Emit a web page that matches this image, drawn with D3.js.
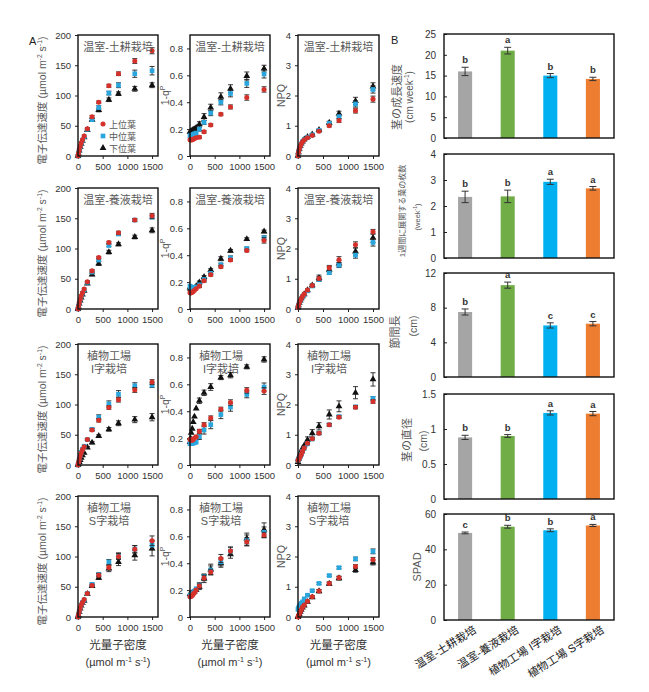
<!DOCTYPE html>
<html>
<head>
<meta charset="utf-8">
<script src="https://cdn.jsdelivr.net/npm/d3@7"></script>
<style>
  body { margin: 0; background: #fff; }
  text { font-family: "Liberation Sans", Arial, "Noto Sans CJK JP", sans-serif; }
</style>
</head>
<body>
<svg id="chart" width="649" height="692"></svg>
<script>
// light steps of the light-response curve (µmol m-2 s-1)
const par = [0, 10, 25, 45, 65, 90, 125, 190, 285, 420, 625, 820, 1150, 1500];

// each series: [value, error] per light step
// 温室-土耕栽培
const soilEtrUp = [[0, 0], [4, 0.3], [10, 0.5], [16, 0.6], [22, 0.8], [27, 1], [33, 1], [45, 1.5], [65, 2], [89, 2], [116, 2.5], [136, 3], [157, 4], [174, 5]];
const soilEtrMid = [[0, 0], [4, 0.3], [9, 0.5], [15, 0.6], [21, 0.8], [26, 1], [32, 1], [44, 1.5], [60, 2], [80, 3], [104, 3], [117, 4], [136, 6], [141, 7]];
const soilEtrLow = [[0, 0], [4, 0.3], [9, 0.5], [15, 0.6], [20, 0.8], [25, 1], [31, 1], [43, 1.5], [60, 2], [76, 3], [93, 3], [103, 3], [111, 4], [117, 4]];
const soilQpUp = [[0.12, 0.01], [0.12, 0.01], [0.12, 0.01], [0.12, 0.01], [0.125, 0.01], [0.13, 0.01], [0.135, 0.01], [0.14, 0.01], [0.18, 0.01], [0.23, 0.01], [0.31, 0.01], [0.365, 0.015], [0.435, 0.02], [0.495, 0.02]];
const soilQpMid = [[0.15, 0.01], [0.15, 0.01], [0.15, 0.01], [0.155, 0.01], [0.16, 0.01], [0.165, 0.01], [0.17, 0.01], [0.2, 0.015], [0.25, 0.015], [0.32, 0.02], [0.4, 0.02], [0.465, 0.025], [0.54, 0.03], [0.61, 0.03]];
const soilQpLow = [[0.18, 0.01], [0.18, 0.01], [0.185, 0.01], [0.19, 0.01], [0.195, 0.01], [0.2, 0.015], [0.21, 0.015], [0.235, 0.02], [0.29, 0.025], [0.36, 0.025], [0.44, 0.03], [0.5, 0.03], [0.595, 0.03], [0.65, 0.025]];
const soilNpqUp = [[0, 0], [0.12, 0.01], [0.22, 0.01], [0.32, 0.02], [0.4, 0.02], [0.47, 0.02], [0.53, 0.02], [0.6, 0.02], [0.68, 0.03], [0.82, 0.03], [1.0, 0.04], [1.17, 0.06], [1.5, 0.08], [1.88, 0.1]];
const soilNpqMid = [[0, 0], [0.12, 0.01], [0.22, 0.01], [0.32, 0.02], [0.4, 0.02], [0.47, 0.02], [0.54, 0.02], [0.62, 0.02], [0.7, 0.03], [0.85, 0.03], [1.08, 0.05], [1.3, 0.07], [1.72, 0.1], [2.2, 0.12]];
const soilNpqLow = [[0, 0], [0.12, 0.01], [0.23, 0.01], [0.33, 0.02], [0.41, 0.02], [0.48, 0.02], [0.55, 0.02], [0.63, 0.02], [0.71, 0.03], [0.86, 0.03], [1.1, 0.05], [1.4, 0.08], [1.82, 0.12], [2.3, 0.12]];

// 温室-養液栽培
const hydroEtrUp = [[0, 0], [4, 0.3], [10, 0.5], [16, 0.6], [22, 0.8], [27, 1], [33, 1], [45, 1.5], [63, 2], [85, 2], [110, 2], [126, 2.5], [147, 2], [154, 4]];
const hydroEtrMid = [[0, 0], [4, 0.3], [10, 0.5], [16, 0.6], [21, 0.8], [26, 1], [32, 1], [44, 1.5], [61, 2], [81, 2], [105, 2], [124, 2.5], [147, 2], [152, 3]];
const hydroEtrLow = [[0, 0], [4, 0.3], [9, 0.5], [14, 0.6], [19, 0.8], [24, 1], [30, 1], [42, 1.5], [57, 2], [75, 3], [94, 3], [107, 2.5], [119, 3], [130, 4]];
const hydroQpUp = [[0.12, 0.01], [0.12, 0.01], [0.12, 0.01], [0.125, 0.01], [0.13, 0.01], [0.14, 0.01], [0.15, 0.01], [0.17, 0.01], [0.21, 0.01], [0.255, 0.01], [0.315, 0.01], [0.365, 0.01], [0.435, 0.01], [0.51, 0.02]];
const hydroQpMid = [[0.17, 0.02], [0.165, 0.02], [0.16, 0.015], [0.155, 0.01], [0.155, 0.01], [0.16, 0.01], [0.165, 0.01], [0.18, 0.01], [0.22, 0.01], [0.265, 0.01], [0.33, 0.01], [0.38, 0.015], [0.45, 0.01], [0.53, 0.015]];
const hydroQpLow = [[0.16, 0.01], [0.15, 0.01], [0.145, 0.01], [0.145, 0.01], [0.15, 0.01], [0.155, 0.01], [0.17, 0.01], [0.198, 0.01], [0.238, 0.01], [0.29, 0.01], [0.374, 0.015], [0.433, 0.01], [0.52, 0.01], [0.577, 0.01]];
const hydroNpqUp = [[0.05, 0.01], [0.12, 0.01], [0.2, 0.01], [0.28, 0.02], [0.35, 0.02], [0.42, 0.02], [0.5, 0.02], [0.63, 0.03], [0.78, 0.04], [1.01, 0.06], [1.36, 0.08], [1.63, 0.1], [2.12, 0.1], [2.55, 0.08]];
const hydroNpqMid = [[0.05, 0.01], [0.12, 0.01], [0.2, 0.01], [0.27, 0.02], [0.34, 0.02], [0.41, 0.02], [0.48, 0.02], [0.6, 0.03], [0.76, 0.04], [0.97, 0.05], [1.2, 0.06], [1.45, 0.08], [1.78, 0.1], [2.2, 0.12]];
const hydroNpqLow = [[0.05, 0.01], [0.12, 0.01], [0.2, 0.01], [0.28, 0.02], [0.35, 0.02], [0.42, 0.02], [0.49, 0.02], [0.62, 0.03], [0.78, 0.04], [1.02, 0.1], [1.3, 0.1], [1.5, 0.1], [1.9, 0.12], [2.35, 0.15]];

// 植物工場 I字栽培
const iEtrUp = [[0, 0], [4, 0.3], [9, 0.5], [15, 0.6], [20, 0.8], [25, 1], [30, 1], [42, 1.5], [58, 2], [74, 3], [95, 3], [108, 4], [124, 4], [137, 4]];
const iEtrMid = [[0, 0], [4, 0.3], [10, 0.5], [16, 0.6], [21, 0.8], [26, 1], [31, 1], [42, 1.5], [59, 2], [79, 4], [101, 5], [117, 6], [131, 5], [132, 4]];
const iEtrLow = [[0, 0], [2, 0.3], [5, 0.5], [8, 0.6], [12, 0.8], [16, 1], [20, 1], [29, 1.5], [37, 2], [48, 2], [59, 3], [69, 4], [75, 5], [79, 6]];
const iQpUp = [[0.19, 0.01], [0.19, 0.01], [0.185, 0.01], [0.185, 0.01], [0.19, 0.01], [0.2, 0.01], [0.21, 0.01], [0.25, 0.015], [0.3, 0.015], [0.35, 0.015], [0.415, 0.015], [0.465, 0.02], [0.555, 0.02], [0.55, 0.025]];
const iQpMid = [[0.16, 0.01], [0.16, 0.01], [0.16, 0.01], [0.16, 0.02], [0.165, 0.02], [0.165, 0.02], [0.17, 0.02], [0.21, 0.02], [0.26, 0.03], [0.3, 0.03], [0.375, 0.03], [0.43, 0.03], [0.525, 0.025], [0.58, 0.03]];
const iQpLow = [[0.17, 0.01], [0.2, 0.01], [0.24, 0.015], [0.27, 0.015], [0.32, 0.015], [0.36, 0.02], [0.42, 0.02], [0.478, 0.02], [0.537, 0.02], [0.58, 0.025], [0.65, 0.015], [0.668, 0.02], [0.73, 0.015], [0.785, 0.02]];
const iNpqUp = [[0.15, 0.02], [0.18, 0.02], [0.22, 0.02], [0.28, 0.02], [0.35, 0.02], [0.45, 0.02], [0.56, 0.03], [0.72, 0.03], [0.87, 0.03], [1.05, 0.04], [1.33, 0.04], [1.58, 0.04], [1.91, 0.05], [2.1, 0.06]];
const iNpqMid = [[0.15, 0.02], [0.18, 0.02], [0.22, 0.02], [0.28, 0.02], [0.35, 0.02], [0.45, 0.02], [0.55, 0.03], [0.7, 0.03], [0.86, 0.03], [1.05, 0.04], [1.33, 0.04], [1.6, 0.04], [1.92, 0.05], [2.2, 0.06]];
const iNpqLow = [[0.1, 0.05], [0.2, 0.05], [0.3, 0.06], [0.38, 0.06], [0.45, 0.08], [0.55, 0.08], [0.65, 0.1], [0.83, 0.1], [1.05, 0.12], [1.28, 0.12], [1.67, 0.15], [1.94, 0.18], [2.39, 0.2], [2.83, 0.22]];

// 植物工場 S字栽培
const sEtrUp = [[0, 0], [4, 0.3], [9, 0.5], [15, 0.6], [20, 0.8], [24, 1], [29, 1], [39, 1.5], [52, 2], [69, 3], [82, 4], [100, 5], [112, 6], [126, 8]];
const sEtrMid = [[0, 0], [4, 0.3], [9, 0.5], [15, 0.6], [20, 0.8], [24, 1], [28, 1], [39, 1.5], [54, 2], [70, 3], [91, 4], [101, 5], [112, 6], [119, 8]];
const sEtrLow = [[0, 0], [3, 0.3], [8, 0.5], [14, 0.6], [19, 0.8], [23, 1], [27, 1], [38, 1.5], [51, 2], [65, 3], [80, 5], [91, 6], [102, 8], [113, 12]];
const sQpUp = [[0.15, 0.01], [0.15, 0.01], [0.155, 0.01], [0.16, 0.01], [0.17, 0.01], [0.18, 0.01], [0.2, 0.01], [0.23, 0.015], [0.29, 0.02], [0.335, 0.02], [0.435, 0.03], [0.49, 0.03], [0.56, 0.03], [0.61, 0.02]];
const sQpMid = [[0.16, 0.01], [0.16, 0.01], [0.165, 0.01], [0.17, 0.01], [0.18, 0.01], [0.19, 0.01], [0.21, 0.015], [0.235, 0.02], [0.3, 0.02], [0.35, 0.03], [0.41, 0.03], [0.49, 0.03], [0.57, 0.04], [0.63, 0.04]];
const sQpLow = [[0.17, 0.01], [0.17, 0.01], [0.175, 0.01], [0.18, 0.01], [0.185, 0.01], [0.19, 0.015], [0.2, 0.02], [0.224, 0.02], [0.286, 0.03], [0.353, 0.04], [0.4, 0.03], [0.467, 0.03], [0.584, 0.04], [0.65, 0.05]];
const sNpqUp = [[0, 0], [0.05, 0.01], [0.1, 0.02], [0.18, 0.02], [0.25, 0.02], [0.33, 0.03], [0.4, 0.03], [0.52, 0.03], [0.67, 0.04], [0.86, 0.05], [1.11, 0.05], [1.3, 0.05], [1.67, 0.06], [1.89, 0.08]];
const sNpqMid = [[0.25, 0.02], [0.3, 0.02], [0.35, 0.02], [0.4, 0.02], [0.45, 0.02], [0.5, 0.02], [0.6, 0.03], [0.72, 0.03], [0.87, 0.03], [1.11, 0.03], [1.37, 0.03], [1.63, 0.04], [1.92, 0.06], [2.17, 0.08]];
const sNpqLow = [[0, 0], [0.05, 0.01], [0.1, 0.02], [0.17, 0.02], [0.24, 0.02], [0.31, 0.03], [0.38, 0.03], [0.5, 0.03], [0.65, 0.04], [0.85, 0.05], [1.1, 0.05], [1.28, 0.06], [1.55, 0.07], [1.8, 0.08]];

const legendLabels = ['上位葉', '中位葉', '下位葉'];
const rowTitles = [['温室-土耕栽培'], ['温室-養液栽培'], ['植物工場', 'I字栽培'], ['植物工場', 'S字栽培']];

// panel B
const treatments = ['温室-土耕栽培', '温室-養液栽培', '植物工場 I字栽培', '植物工場 S字栽培'];
const growthRate = [16.0, 21.0, 15.0, 14.2];
const growthRateErr = [1.0, 0.8, 0.5, 0.4];
const growthRateSig = ['b', 'a', 'b', 'b'];
const leafCount = [2.35, 2.37, 2.93, 2.68];
const leafCountErr = [0.22, 0.24, 0.1, 0.07];
const leafCountSig = ['b', 'b', 'a', 'a'];
const internode = [7.5, 10.6, 5.95, 6.15];
const internodeErr = [0.35, 0.35, 0.3, 0.25];
const internodeSig = ['b', 'a', 'c', 'c'];
const stemDiam = [0.88, 0.9, 1.23, 1.22];
const stemDiamErr = [0.03, 0.02, 0.03, 0.03];
const stemDiamSig = ['b', 'b', 'a', 'a'];
const spad = [49.3, 52.8, 50.8, 53.5];
const spadErr = [0.5, 0.8, 0.8, 0.6];
const spadSig = ['c', 'b', 'b', 'a'];
const barColors = ['#A5A5A5', '#70AD47', '#00B0F0', '#ED7D31'];

const svg = d3.select('#chart');
const inkGray = '#595959';

// write text parts into a text element; a part may be a superscript
function fillParts(t, parts, size) {
  let raised = false;
  parts.forEach((p) => {
    const s = t.append('tspan').text(p.t);
    if (p.sup) {
      s.attr('font-size', size * 0.65).attr('dy', raised ? 0 : -size * 0.4);
      raised = true;
    } else if (raised) {
      s.attr('dy', size * 0.4);
      raised = false;
    }
  });
}

// rotated label
function vLabel(g, x, y, parts, size) {
  const t = g.append('text')
    .attr('transform', `translate(${x},${y}) rotate(-90)`)
    .attr('text-anchor', 'middle')
    .attr('font-size', size)
    .attr('fill', inkGray);
  fillParts(t, parts, size);
  return t;
}

function hLabel(g, x, y, parts, size) {
  const t = g.append('text')
    .attr('x', x).attr('y', y)
    .attr('text-anchor', 'middle')
    .attr('font-size', size)
    .attr('fill', '#333');
  fillParts(t, parts, size);
  return t;
}

// ---------- panel A: light-response scatter plots ----------
const cols = [{ x: 78, w: 80 }, { x: 190, w: 80 }, { x: 298, w: 81 }];
const rows = [{ y: 35, h: 121 }, { y: 188, h: 121 }, { y: 344, h: 121 }, { y: 496, h: 121 }];

const vars = [
  { domain: [0, 200], ticks: [0, 50, 100, 150, 200], fmt: d3.format('d') },
  { domain: [0, 0.9], ticks: [0, 0.2, 0.4, 0.6, 0.8], fmt: (d) => (d === 0 ? '0' : d3.format('.1f')(d)) },
  { domain: [0, 4], ticks: [0, 1, 2, 3, 4], fmt: d3.format('d') },
];

const panelData = [
  [[soilEtrUp, soilEtrMid, soilEtrLow], [soilQpUp, soilQpMid, soilQpLow], [soilNpqUp, soilNpqMid, soilNpqLow]],
  [[hydroEtrUp, hydroEtrMid, hydroEtrLow], [hydroQpUp, hydroQpMid, hydroQpLow], [hydroNpqUp, hydroNpqMid, hydroNpqLow]],
  [[iEtrUp, iEtrMid, iEtrLow], [iQpUp, iQpMid, iQpLow], [iNpqUp, iNpqMid, iNpqLow]],
  [[sEtrUp, sEtrMid, sEtrLow], [sQpUp, sQpMid, sQpLow], [sNpqUp, sNpqMid, sNpqLow]],
];

const leafStyle = [
  { type: d3.symbolCircle, size: 20, fill: '#D5312B' },
  { type: d3.symbolSquare, size: 22, fill: '#2AA6DE' },
  { type: d3.symbolTriangle, size: 20, fill: '#111' },
];

function scatterPanel(ri, ci) {
  const box = { x: cols[ci].x, y: rows[ri].y, w: cols[ci].w, h: rows[ri].h };
  const v = vars[ci];
  const g = svg.append('g').attr('transform', `translate(${box.x},${box.y})`);
  const x = d3.scaleLinear().domain([0, 1620]).range([0, box.w]);
  const y = d3.scaleLinear().domain(v.domain).range([box.h, 0]);

  const ya = g.append('g')
    .call(d3.axisLeft(y).tickValues(v.ticks).tickFormat(v.fmt).tickSize(3).tickPadding(4));
  const xa = g.append('g')
    .attr('transform', `translate(0,${box.h})`)
    .call(d3.axisBottom(x).tickValues([0, 500, 1000, 1500]).tickFormat(d3.format('d')).tickSize(3).tickPadding(4));
  [ya, xa].forEach((a) => {
    a.select('.domain').remove();
    a.selectAll('text').attr('font-size', 9.5).attr('fill', '#333').style('font-family', '"Liberation Sans", Arial, sans-serif');
    a.selectAll('line').attr('stroke', '#222');
  });

  // lower leaf drawn first so that upper leaf sits on top
  [2, 1, 0].forEach((si) => {
    const series = panelData[ri][ci][si];
    const pts = series.map((d, i) => ({ px: par[i], v: d[0], e: d[1] }));
    const eg = g.append('g').attr('stroke', '#222').attr('stroke-width', 0.9);
    pts.filter((d) => d.e > 0 && d.px > 150).forEach((d) => {
      const cx = x(d.px);
      eg.append('line').attr('x1', cx).attr('x2', cx).attr('y1', y(d.v - d.e)).attr('y2', y(d.v + d.e));
      eg.append('line').attr('x1', cx - 2.5).attr('x2', cx + 2.5).attr('y1', y(d.v - d.e)).attr('y2', y(d.v - d.e));
      eg.append('line').attr('x1', cx - 2.5).attr('x2', cx + 2.5).attr('y1', y(d.v + d.e)).attr('y2', y(d.v + d.e));
    });
    const st = leafStyle[si];
    g.append('g').selectAll('path')
      .data(pts)
      .join('path')
      .attr('transform', (d) => `translate(${x(d.px)},${y(d.v)})`)
      .attr('d', d3.symbol().type(st.type).size(st.size))
      .attr('fill', st.fill);
  });

  g.append('rect')
    .attr('width', box.w).attr('height', box.h)
    .attr('fill', 'none').attr('stroke', '#111').attr('stroke-width', 1.4);

  const title = rowTitles[ri];
  if (title.length === 1) {
    g.append('text').attr('x', box.w / 2).attr('y', 16)
      .attr('text-anchor', 'middle').attr('font-size', 11).attr('fill', inkGray)
      .text(title[0]);
  } else {
    title.forEach((t, k) => {
      g.append('text').attr('x', 31).attr('y', 16 + k * 13)
        .attr('text-anchor', 'middle').attr('font-size', 11).attr('fill', inkGray)
        .text(t);
    });
  }

  // y-axis titles
  const cy = box.y + box.h / 2;
  if (ci === 0) {
    vLabel(svg, 46, cy + 5, [{ t: '電子伝達速度 (µmol m' }, { t: '-2', sup: true }, { t: ' s' }, { t: '-1', sup: true }, { t: ')' }], 10.5);
  } else if (ci === 1) {
    vLabel(svg, 169, cy, [{ t: '1-q' }, { t: 'P', sup: true }], 10.5);
  } else {
    vLabel(svg, 285, cy, [{ t: 'NPQ' }], 10.5);
  }

  // legend in the first panel
  if (ri === 0 && ci === 0) {
    legendLabels.forEach((lab, k) => {
      const st = leafStyle[k];
      const ly = 89 + k * 12;
      g.append('path')
        .attr('transform', `translate(25,${ly})`)
        .attr('d', d3.symbol().type(st.type).size(st.size))
        .attr('fill', st.fill);
      g.append('text').attr('x', 31).attr('y', ly + 3.5)
        .attr('font-size', 9).attr('fill', inkGray).text(lab);
    });
  }

  // x-axis title under the bottom row
  if (ri === rows.length - 1) {
    hLabel(svg, box.x + box.w / 2, 649, [{ t: '光量子密度' }], 11.5);
    hLabel(svg, box.x + box.w / 2, 666, [{ t: '(µmol m' }, { t: '-1', sup: true }, { t: ' s' }, { t: '-1', sup: true }, { t: ')' }], 11);
  }
}

rows.forEach((r, ri) => cols.forEach((c, ci) => scatterPanel(ri, ci)));

svg.append('text').attr('x', 29).attr('y', 45).attr('font-size', 11).attr('fill', '#222').text('A');
svg.append('text').attr('x', 391).attr('y', 44).attr('font-size', 11).attr('fill', '#222').text('B');

// ---------- panel B: bar charts ----------
const bx = d3.scaleBand().domain(treatments).range([444, 614]).paddingInner(0.67).paddingOuter(0.33);

const barPanels = [
  { top: 34, bottom: 138, vals: growthRate, err: growthRateErr, sig: growthRateSig, domain: [0, 25], ticks: [0, 5, 10, 15, 20, 25] },
  { top: 154, bottom: 258, vals: leafCount, err: leafCountErr, sig: leafCountSig, domain: [0, 4], ticks: [0, 1, 2, 3, 4] },
  { top: 273, bottom: 377, vals: internode, err: internodeErr, sig: internodeSig, domain: [0, 12], ticks: [0, 4, 8, 12] },
  { top: 394, bottom: 499, vals: stemDiam, err: stemDiamErr, sig: stemDiamSig, domain: [0, 1.5], ticks: [0, 0.5, 1, 1.5] },
  { top: 514, bottom: 620, vals: spad, err: spadErr, sig: spadSig, domain: [0, 60], ticks: [0, 20, 40, 60] },
];

barPanels.forEach((p) => {
  const y = d3.scaleLinear().domain(p.domain).range([p.bottom, p.top]);
  const g = svg.append('g');
  const ya = g.append('g').attr('transform', 'translate(444,0)')
    .call(d3.axisLeft(y).tickValues(p.ticks).tickFormat((d) => String(d)).tickSize(-3).tickPadding(8));
  ya.select('.domain').remove();
  ya.selectAll('text').attr('font-size', 10).attr('fill', '#333').style('font-family', '"Liberation Sans", Arial, sans-serif');
  ya.selectAll('line').attr('stroke', '#222');

  g.selectAll('rect.bar')
    .data(p.vals)
    .join('rect')
    .attr('class', 'bar')
    .attr('x', (d, i) => bx(treatments[i]))
    .attr('width', bx.bandwidth())
    .attr('y', (d) => y(d))
    .attr('height', (d) => p.bottom - y(d))
    .attr('fill', (d, i) => barColors[i]);

  const eg = g.append('g').attr('stroke', '#333').attr('stroke-width', 1);
  p.vals.forEach((d, i) => {
    const cx = bx(treatments[i]) + bx.bandwidth() / 2;
    const lo = y(d - p.err[i]);
    const hi = y(d + p.err[i]);
    eg.append('line').attr('x1', cx).attr('x2', cx).attr('y1', lo).attr('y2', hi);
    eg.append('line').attr('x1', cx - 3.5).attr('x2', cx + 3.5).attr('y1', lo).attr('y2', lo);
    eg.append('line').attr('x1', cx - 3.5).attr('x2', cx + 3.5).attr('y1', hi).attr('y2', hi);
    g.append('text').attr('x', cx).attr('y', hi - 4)
      .attr('text-anchor', 'middle').attr('font-size', 9.5).attr('font-weight', 'bold')
      .attr('fill', '#333').text(p.sig[i]);
  });

  g.append('rect')
    .attr('x', 444).attr('y', p.top).attr('width', 170).attr('height', p.bottom - p.top)
    .attr('fill', 'none').attr('stroke', '#111').attr('stroke-width', 1.4);
});

vLabel(svg, 401, 97, [{ t: '茎の成長速度' }], 11);
vLabel(svg, 413, 97, [{ t: '(cm week' }, { t: '-1', sup: true }, { t: ')' }], 10);
vLabel(svg, 405, 211, [{ t: '1週間に展開する葉の枚数' }], 8);
vLabel(svg, 420, 217, [{ t: '(week' }, { t: '-1', sup: true }, { t: ')' }], 7.5);
vLabel(svg, 399, 332, [{ t: '節間長' }], 11);
vLabel(svg, 417, 326, [{ t: '(cm)' }], 10.5);
vLabel(svg, 411, 440, [{ t: '茎の直径' }], 11);
vLabel(svg, 427, 441, [{ t: '(cm)' }], 10.5);
vLabel(svg, 421, 567, [{ t: 'SPAD' }], 11);

// rotated category labels under the last bar chart
svg.append('g').selectAll('text')
  .data(treatments)
  .join('text')
  .attr('transform', (d) => `translate(${bx(d) + bx.bandwidth() / 2 + 12},632) rotate(-32)`)
  .attr('text-anchor', 'end')
  .attr('font-size', 11)
  .attr('fill', '#222')
  .text((d) => d);
</script>
</body>
</html>
